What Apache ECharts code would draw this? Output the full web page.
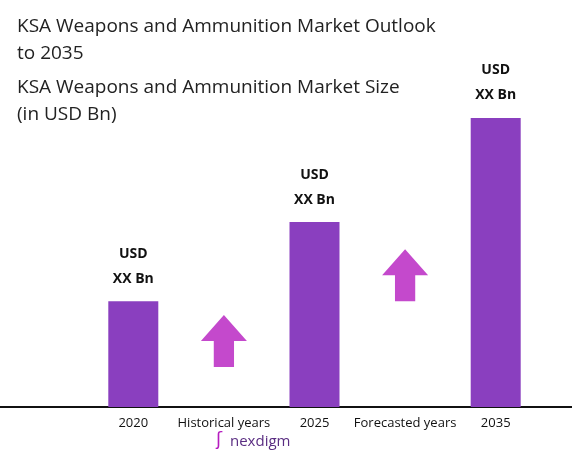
<!DOCTYPE html>
<html><head><meta charset="utf-8">
<script src="https://cdn.jsdelivr.net/npm/echarts@6/dist/echarts.min.js"></script>
<style>html,body{margin:0;padding:0;background:#fff}#c{width:587px;height:462px}</style>
</head><body><div id="c"></div>
<script>
const categories = ['2020', 'Historical years', '2025', 'Forecasted years', '2035'];
const barValues = [30.5, null, 53.3, null, 83.3];
const arrowValues = [null, 19, null, 38, null];
const barLabels = ['USD\nXX Bn', '', 'USD\nXX Bn', '', 'USD\nXX Bn'];
const chart = echarts.init(document.getElementById('c'));
const arrowPath = 'path://M0,50 L50,0 L100,50 L72,50 L72,100 L28,100 L28,50 Z';
chart.setOption({
  animation: false,
  title: [
    {text: 'KSA Weapons and Ammunition Market Outlook\nto 2035', left: 12, top: 8,
     textStyle: {fontFamily: 'Open Sans', fontSize: 19, fontWeight: 'normal', color: '#222', lineHeight: 27}},
    {text: 'KSA Weapons and Ammunition Market Size\n(in USD Bn)', left: 12, top: 69,
     textStyle: {fontFamily: 'Open Sans', fontSize: 19, fontWeight: 'normal', color: '#222', lineHeight: 27}}
  ],
  grid: {left: 88, right: 46, top: 60, bottom: 55},
  xAxis: {type: 'category', data: categories, axisLine: {show: false}, axisTick: {show: false},
    axisLabel: {color: '#111', fontFamily: 'Open Sans', fontSize: 13, margin: 10, interval: 0}},
  yAxis: {type: 'value', min: 0, max: 100, show: false},
  series: [
    {type: 'bar', data: barValues, barWidth: 50, itemStyle: {color: '#8a3fbf'},
     label: {show: true, position: 'top', distance: 10, formatter: p => barLabels[p.dataIndex],
       fontFamily: 'Open Sans', fontWeight: 'bold', fontSize: 14, color: '#111', lineHeight: 25}},
    {type: 'scatter', data: arrowValues, symbol: arrowPath, symbolSize: [46, 52],
     itemStyle: {color: '#b51cbf'}}
  ],
  graphic: [
    {type: 'line', shape: {x1: 0, y1: 407, x2: 572, y2: 407}, style: {stroke: '#111', lineWidth: 2}},
    {type: 'text', left: 230, top: 434, style: {text: 'nexdigm', fontFamily: 'Open Sans', fontSize: 15, fill: '#5a2d82'}},
    {type: 'text', left: 216, top: 431, style: {text: 'ʃ', fontFamily: 'DejaVu Sans', fontSize: 18, fill: '#b51cbf'}}
  ]
});
</script></body></html>
